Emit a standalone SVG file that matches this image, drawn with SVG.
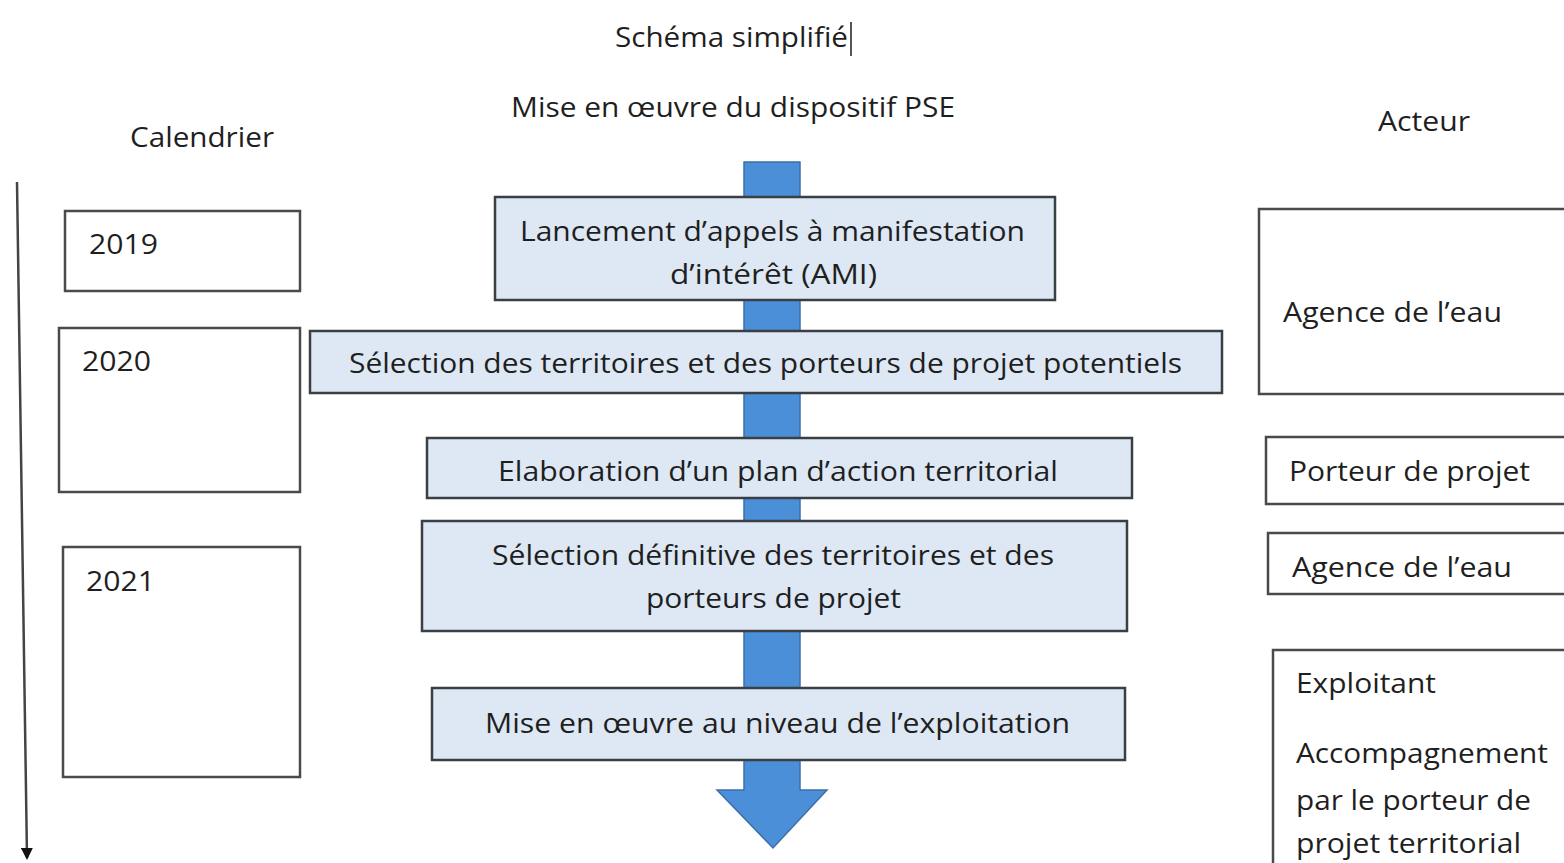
<svg xmlns="http://www.w3.org/2000/svg" width="1564" height="863" viewBox="0 0 1564 863">
<style>
text{font-family:"Open Sans","Liberation Sans",sans-serif;font-size:28px;fill:#1f1f1f}
.step{fill:#dde8f4;stroke:#3a3f44;stroke-width:2.5}
.box{fill:#ffffff;stroke:#4a4a4a;stroke-width:2.5}
</style>
<defs>
<marker id="ah" markerWidth="12" markerHeight="12" refX="10" refY="6" orient="auto" markerUnits="userSpaceOnUse" viewBox="0 0 12 12">
<path d="M0,0 L12,6 L0,12 Z" fill="#111"/>
</marker>
</defs>
<rect width="1564" height="863" fill="#ffffff"/>
<g id="headers">
<text x="615" y="47" textLength="233" lengthAdjust="spacingAndGlyphs">Schéma simplifié</text>
<line x1="851" y1="22" x2="851" y2="56" stroke="#555" stroke-width="2"/>
<text x="511" y="117" textLength="444" lengthAdjust="spacingAndGlyphs">Mise en œuvre du dispositif PSE</text>
<text x="130" y="147" textLength="144" lengthAdjust="spacingAndGlyphs">Calendrier</text>
<text x="1378" y="131" textLength="92" lengthAdjust="spacingAndGlyphs">Acteur</text>
</g>
<g id="connectors">
<line x1="17" y1="182" x2="27" y2="858" stroke="#444" stroke-width="2.5" marker-end="url(#ah)"/>
<path d="M744,162 L800,162 L800,790 L827,790 L773,848 L717,790 L744,790 Z" fill="#4a8fd8" stroke="#3d6fa8" stroke-width="1.5"/>
</g>
<g id="y2019"><rect class="box" x="65" y="211" width="235" height="80"/><text x="89" y="254" textLength="69" lengthAdjust="spacingAndGlyphs">2019</text></g>
<g id="y2020"><rect class="box" x="59" y="328" width="241" height="164"/><text x="82" y="371" textLength="69" lengthAdjust="spacingAndGlyphs">2020</text></g>
<g id="y2021"><rect class="box" x="63" y="547" width="237" height="230"/><text x="86" y="591" textLength="69" lengthAdjust="spacingAndGlyphs">2021</text></g>
<g id="step1"><rect class="step" x="495" y="197" width="560" height="103"/>
<text x="520" y="241" textLength="505" lengthAdjust="spacingAndGlyphs">Lancement d’appels à manifestation</text>
<text x="670" y="284" textLength="207" lengthAdjust="spacingAndGlyphs">d’intérêt (AMI)</text></g>
<g id="step2"><rect class="step" x="310" y="331" width="912" height="62"/>
<text x="349" y="373" textLength="833" lengthAdjust="spacingAndGlyphs">Sélection des territoires et des porteurs de projet potentiels</text></g>
<g id="step3"><rect class="step" x="427" y="438" width="705" height="60"/>
<text x="498" y="481" textLength="560" lengthAdjust="spacingAndGlyphs">Elaboration d’un plan d’action territorial</text></g>
<g id="step4"><rect class="step" x="422" y="521" width="705" height="110"/>
<text x="492" y="565" textLength="562" lengthAdjust="spacingAndGlyphs">Sélection définitive des territoires et des</text>
<text x="646" y="608" textLength="255" lengthAdjust="spacingAndGlyphs">porteurs de projet</text></g>
<g id="step5"><rect class="step" x="432" y="688" width="693" height="72"/>
<text x="485" y="733" textLength="585" lengthAdjust="spacingAndGlyphs">Mise en œuvre au niveau de l’exploitation</text></g>
<g id="actor1"><rect class="box" x="1259" y="209" width="320" height="185"/>
<text x="1283" y="322" textLength="219" lengthAdjust="spacingAndGlyphs">Agence de l’eau</text></g>
<g id="actor2"><rect class="box" x="1266" y="437" width="313" height="67"/>
<text x="1289" y="481" textLength="241" lengthAdjust="spacingAndGlyphs">Porteur de projet</text></g>
<g id="actor3"><rect class="box" x="1268" y="533" width="311" height="61"/>
<text x="1292" y="577" textLength="220" lengthAdjust="spacingAndGlyphs">Agence de l’eau</text></g>
<g id="actor4"><rect class="box" x="1273" y="650" width="306" height="230"/>
<text x="1296" y="693" textLength="140" lengthAdjust="spacingAndGlyphs">Exploitant</text>
<text x="1296" y="763" textLength="252" lengthAdjust="spacingAndGlyphs">Accompagnement</text>
<text x="1296" y="810" textLength="235" lengthAdjust="spacingAndGlyphs">par le porteur de</text>
<text x="1296" y="853" textLength="225" lengthAdjust="spacingAndGlyphs">projet territorial</text></g>
</svg>
